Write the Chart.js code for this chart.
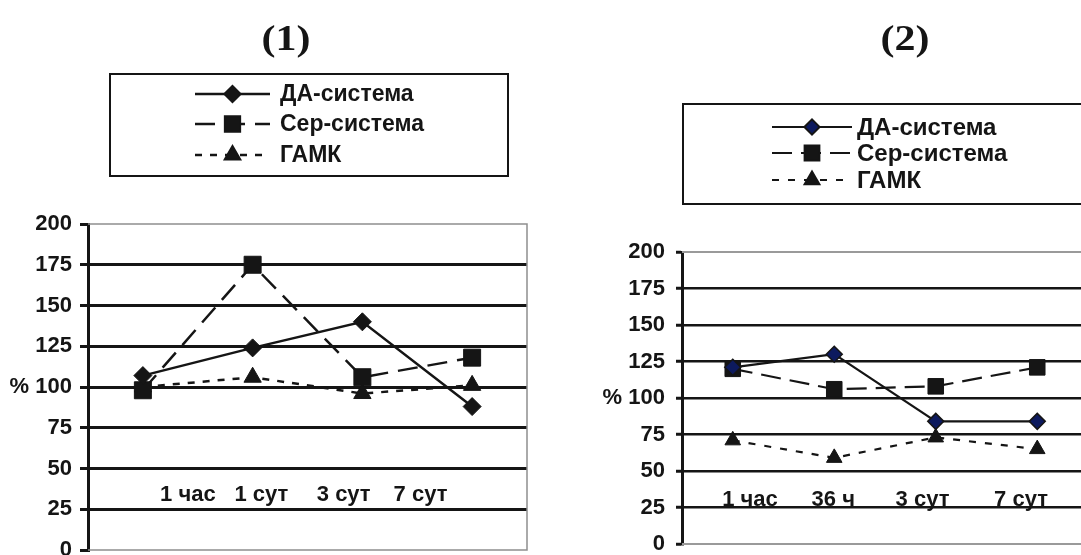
<!DOCTYPE html>
<html lang="ru">
<head>
<meta charset="utf-8">
<title>ДА-система, Сер-система, ГАМК</title>
<script src="https://cdn.jsdelivr.net/npm/chart.js@4.4.1/dist/chart.umd.min.js"></script>
<style>
  html, body { margin: 0; padding: 0; background: #fff; overflow: hidden; }
  #wrap { position: relative; width: 1081px; height: 555px; overflow: hidden; }
  canvas { position: absolute; top: 0; }
  #chart1 { left: 0; }
  #chart2 { left: 540px; }
</style>
</head>
<body>
<div id="wrap">
  <canvas id="chart1" width="540" height="600"></canvas>
  <canvas id="chart2" width="560" height="600"></canvas>
</div>
<script>
// series names
const seriesNames = ['ДА-система', 'Сер-система', 'ГАМК'];

// panel (1)
const labels1 = ['1 час', '1 сут', '3 сут', '7 сут'];
const da1 = [107, 124, 140, 88];
const ser1 = [98, 175, 106, 118];
const gaba1 = [100, 106, 96, 101];

// panel (2)
const labels2 = ['1 час', '36 ч', '3 сут', '7 сут'];
const da2 = [121, 130, 84, 84];
const ser2 = [120, 106, 108, 121];
const gaba2 = [71, 59, 73, 65];

// y axis: 0..200 step 25
const yMin = 0, yMax = 200, yStep = 25;

// where the category captions sit (in category index units / y value)
const captionSlots1 = [0.41, 1.08, 1.83, 2.53];
const captionSlots2 = [0.17, 0.99, 1.87, 2.84];

const FONT = '"Liberation Sans", Arial, sans-serif';
const INK = '#151515';

// frame, category captions, title and legend box
const panelDecor = {
  id: 'panelDecor',
  beforeDatasetsDraw(chart, args, o) {
    const { ctx, chartArea: a } = chart;
    ctx.save();
    ctx.strokeStyle = o.frameColor;
    ctx.lineWidth = o.frameWidth;
    ctx.beginPath();
    ctx.moveTo(a.left, a.top);
    ctx.lineTo(a.right, a.top);
    ctx.lineTo(a.right, a.bottom);
    ctx.lineTo(a.left, a.bottom);
    ctx.stroke();
    ctx.restore();
  },
  afterDatasetsDraw(chart, args, o) {
    const { ctx, scales: { x, y } } = chart;
    ctx.save();
    ctx.font = 'bold ' + o.captionSize + 'px ' + FONT;
    ctx.fillStyle = INK;
    ctx.textAlign = 'center';
    ctx.textBaseline = 'middle';
    chart.data.labels.forEach((lab, i) => {
      ctx.fillText(lab, x.getPixelForValue(o.captionSlots[i]), y.getPixelForValue(o.captionLevel));
    });
    ctx.restore();
  },
  afterDraw(chart, args, o) {
    const ctx = chart.ctx;
    ctx.save();
    // title, a little wider than the plain serif face
    ctx.font = 'bold ' + o.titleSize + 'px "Liberation Serif", "Times New Roman", serif';
    ctx.fillStyle = INK;
    ctx.textAlign = 'center';
    ctx.textBaseline = 'middle';
    ctx.save();
    ctx.translate(o.titleX, o.titleY);
    ctx.scale(1.2, 1);
    ctx.fillText(o.title, 0, 0);
    ctx.restore();

    // legend box
    const L = o.legend;
    ctx.strokeStyle = INK;
    ctx.lineWidth = 2;
    ctx.strokeRect(L.x, L.y, L.w, L.h);

    ctx.font = 'bold ' + L.fontSize + 'px ' + FONT;
    ctx.textAlign = 'left';
    chart.data.datasets.forEach((ds, i) => {
      const ry = L.rows[i];
      ctx.save();
      ctx.strokeStyle = ds.borderColor;
      ctx.lineWidth = ds.borderWidth;
      ctx.setLineDash(ds.borderDash || []);
      ctx.beginPath();
      ctx.moveTo(L.sampleX, ry);
      ctx.lineTo(L.sampleX + L.sampleW, ry);
      ctx.stroke();
      ctx.restore();

      ctx.save();
      ctx.fillStyle = ds.pointBackgroundColor;
      ctx.strokeStyle = ds.pointBorderColor;
      Chart.helpers.drawPoint(ctx, {
        pointStyle: ds.pointStyle,
        radius: ds.pointRadius * L.markScale,
        borderWidth: ds.pointBorderWidth,
        rotation: 0
      }, L.sampleX + L.sampleW / 2, ry);
      ctx.restore();

      ctx.fillStyle = INK;
      ctx.fillText(ds.label, L.textX, ry + 1);
    });
    ctx.restore();
  }
};

function makeDatasets(da, ser, gaba, st) {
  return [
    {
      label: seriesNames[0], data: da,
      borderColor: INK, borderWidth: st.lineW, borderDash: [],
      pointStyle: 'rectRot', pointRadius: st.diamondR,
      pointBackgroundColor: st.diamondFill, pointBorderColor: INK, pointBorderWidth: st.diamondBorder
    },
    {
      label: seriesNames[1], data: ser,
      borderColor: INK, borderWidth: st.lineW, borderDash: st.dash,
      pointStyle: 'rect', pointRadius: st.squareR,
      pointBackgroundColor: INK, pointBorderColor: INK, pointBorderWidth: 1
    },
    {
      label: seriesNames[2], data: gaba,
      borderColor: INK, borderWidth: st.lineW, borderDash: st.dots,
      pointStyle: 'triangle', pointRadius: st.triR,
      pointBackgroundColor: INK, pointBorderColor: INK, pointBorderWidth: 1
    }
  ];
}

function makeChart(id, labels, datasets, cfg) {
  return new Chart(document.getElementById(id), {
    type: 'line',
    data: { labels: labels, datasets: datasets },
    options: {
      responsive: false,
      animation: false,
      devicePixelRatio: 1,
      layout: { padding: cfg.padding },
      plugins: {
        legend: { display: false },
        tooltip: { enabled: false },
        panelDecor: cfg.decor
      },
      elements: { line: { tension: 0 } },
      scales: {
        x: { type: 'category', offset: true, display: false },
        y: {
          min: yMin, max: yMax,
          afterFit(scale) { scale.width = cfg.axisWidth; },
          ticks: {
            stepSize: yStep,
            padding: cfg.tickPad,
            color: INK,
            font: { family: FONT, size: 22, weight: 'bold' },
            callback: v => (v === 100 ? '% 100' : String(v))
          },
          grid: {
            drawTicks: true,
            tickLength: cfg.tickLen,
            tickColor: INK,
            tickWidth: 3,
            color: ctx => (ctx.tick && (ctx.tick.value === yMax || ctx.tick.value === yMin) ? 'rgba(0,0,0,0)' : INK),
            lineWidth: cfg.gridW
          },
          border: { display: true, color: INK, width: 3 }
        }
      }
    },
    plugins: [panelDecor]
  });
}

makeChart('chart1', labels1,
  makeDatasets(da1, ser1, gaba1, {
    lineW: 2.5, dash: [20, 10], dots: [7, 8],
    diamondR: 9, diamondFill: INK, diamondBorder: 1,
    squareR: 12, triR: 10
  }),
  {
    padding: { left: 0, top: 224, right: 11, bottom: 50 },
    axisWidth: 88, tickPad: 8, tickLen: 8, gridW: 3,
    decor: {
      frameColor: '#8f8f8f', frameWidth: 1.5,
      captionSize: 22, captionSlots: captionSlots1, captionLevel: 33.7,
      title: '(1)', titleSize: 35, titleX: 286, titleY: 41,
      legend: { x: 110, y: 74, w: 398, h: 102, sampleX: 195, sampleW: 75, textX: 280, rows: [94, 124, 155], fontSize: 23, markScale: 0.9 }
    }
  });

makeChart('chart2', labels2,
  makeDatasets(da2, ser2, gaba2, {
    lineW: 2.2, dash: [20, 9], dots: [7, 9],
    diamondR: 8, diamondFill: '#0d1a5e', diamondBorder: 1.5,
    squareR: 11, triR: 9
  }),
  {
    padding: { left: 0, top: 252, right: 10, bottom: 56 },
    axisWidth: 142, tickPad: 11, tickLen: 6, gridW: 2.5,
    decor: {
      frameColor: '#9a9a9a', frameWidth: 2,
      captionSize: 22, captionSlots: captionSlots2, captionLevel: 30,
      title: '(2)', titleSize: 35, titleX: 365, titleY: 41,
      legend: { x: 143, y: 104, w: 600, h: 100, sampleX: 232, sampleW: 80, textX: 317, rows: [127, 153, 180], fontSize: 24, markScale: 0.95 }
    }
  });
</script>
</body>
</html>
